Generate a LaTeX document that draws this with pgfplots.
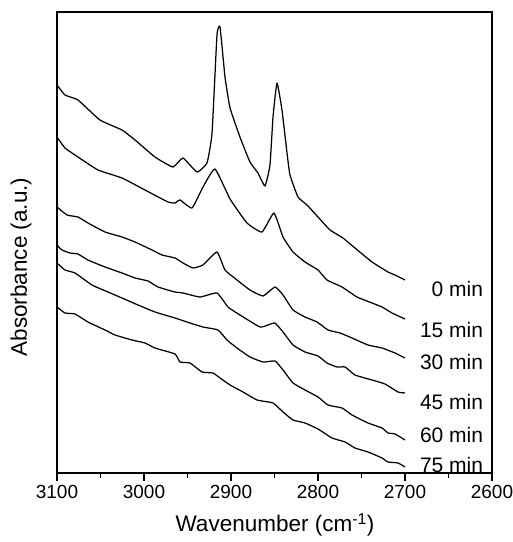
\documentclass[border=0pt]{standalone}
\usepackage{fontspec}
\setmainfont{Liberation Sans}
\usepackage{pgfplots}
\pgfplotsset{compat=1.18}

\newcommand{\ticksize}{\fontsize{19bp}{22bp}\selectfont}
\newcommand{\labsize}{\fontsize{21bp}{24bp}\selectfont}
\newcommand{\axsize}{\fontsize{22.5bp}{26bp}\selectfont}

\pgfplotsset{spec/.style={black, no marks, line width=1.25bp, line join=round, smooth, tension=0.25}}

\begin{document}
\begin{tikzpicture}
\useasboundingbox (-57bp,-69bp) rectangle (456bp,473bp);
\begin{axis}[
  scale only axis, width=435bp, height=461bp,
  at={(0,0)}, anchor=south west,
  x dir=reverse, xmin=2600, xmax=3100, ymin=0, ymax=461,
  xtick={2600,2700,...,3100}, minor xtick={2650,2750,...,3050},
  ytick=\empty,
  tick align=outside, xtick pos=bottom,
  major tick length=8bp, minor tick length=5bp,
  every tick/.style={black, line width=1.2bp},
  axis line style={line width=1.6bp},
  /pgf/number format/1000 sep={},
  /pgf/number format/assume math mode=true,
  xticklabel style={font=\ticksize, anchor=north, yshift=-1bp},
  xlabel={Wavenumber (cm\textsuperscript{-1})},
  ylabel={Absorbance (a.u.)},
  every axis x label/.style={at={(axis description cs:0.501,0)}, anchor=center, yshift=-52bp, font=\axsize},
  every axis y label/.style={at={(axis description cs:0,0.447)}, anchor=center, rotate=90, yshift=36bp, font=\axsize},
  clip=false,
]
% 0 min
\addplot[spec] coordinates {
(3100,388) (3090.8,378) (3075.9,373) (3050.6,353) (3025.3,343) (3010.3,333)
(2987.4,316) (2966.7,306) (2955.2,315) (2939.1,301) (2927.6,310) (2921.8,340)
(2916.1,438) (2912.6,446) (2906.9,396) (2901.1,365) (2889.7,336) (2878.2,311)
(2869.0,300) (2860.9,287) (2855.2,308) (2851.7,356) (2847.1,390) (2841.4,363)
(2835.6,320) (2832.2,298) (2823.0,276) (2812.6,268) (2800.0,256) (2786.2,243)
(2771.3,235) (2757.5,225) (2737.9,211) (2719.5,201) (2711.5,198) (2700.0,193)};
% 15 min
\addplot[spec] coordinates {
(3100,336) (3090.8,325) (3075.9,316) (3052.9,303) (3025.3,295) (2998.9,283)
(2972.4,271) (2964.4,270) (2958.6,273) (2944.8,265) (2932.2,286) (2918.4,304)
(2901.1,274) (2881.6,250) (2864.4,241) (2850.6,260) (2840.2,236) (2828.7,221)
(2814.9,211) (2800.0,203) (2789.7,193) (2772.4,186) (2755.2,176) (2737.9,170)
(2726.4,166) (2714.9,160) (2700.0,154)};
% 30 min
\addplot[spec] coordinates {
(3100,266) (3088.5,258) (3075.9,256) (3064.4,250) (3044.8,241) (3025.3,236)
(3010.3,231) (2990.8,223) (2979.3,218) (2964.4,215) (2955.2,210) (2943.7,205)
(2932.2,208) (2916.1,221) (2906.9,203) (2893.1,193) (2878.2,183) (2863.2,177)
(2849.4,186) (2840.2,178) (2828.7,163) (2814.9,156) (2801.1,151) (2788.5,143)
(2774.7,140) (2760.9,135) (2742.5,128) (2726.4,125) (2711.5,120) (2700.0,115)};
% 45 min
\addplot[spec] coordinates {
(3100,228) (3094.3,223) (3085.1,220) (3075.9,219) (3064.4,213) (3044.8,206)
(3025.3,200) (3010.3,195) (2995.4,192) (2983.9,186) (2964.4,181) (2955.2,180)
(2935.6,176) (2916.1,180) (2903.4,166) (2889.7,158) (2866.7,146) (2857.5,148)
(2849.4,150) (2840.2,141) (2828.7,128) (2814.9,121) (2800.0,117) (2789.7,110)
(2778.2,106) (2768.9,106) (2757.5,98) (2737.9,93) (2723.0,89) (2708.0,81)
(2700.0,80)};
% 60 min
\addplot[spec] coordinates {
(3100,210) (3090.8,203) (3079.3,200) (3059.8,188) (3041.4,181) (3025.3,175)
(3006.9,168) (2987.4,161) (2964.4,155) (2950.6,151) (2932.2,146) (2914.9,143)
(2904.6,133) (2893.1,125) (2878.2,116) (2863.2,111) (2849.4,112) (2840.2,103)
(2828.7,90) (2814.9,83) (2800.0,76) (2788.5,68) (2772.4,65) (2760.9,58)
(2742.5,50) (2726.4,45) (2719.5,40) (2711.5,39) (2700.0,33)};
% 75 min
\addplot[spec] coordinates {
(3100,166) (3090.8,160) (3079.3,159) (3064.4,151) (3044.8,143) (3033.3,138)
(3013.8,133) (2998.9,130) (2987.4,125) (2964.4,119) (2958.6,111) (2947.1,110)
(2933.3,101) (2920.7,100) (2912.6,95) (2901.1,88) (2886.2,81) (2870.1,73)
(2851.7,70) (2840.2,61) (2828.7,53) (2814.9,50) (2800.0,44) (2783.9,35)
(2768.9,31) (2757.5,25) (2742.5,21) (2726.4,15) (2719.5,11) (2708.0,10)
(2700.0,6)};
\node[font=\labsize, anchor=east, inner sep=0pt] at (axis cs:2610,184) {0 min};
\node[font=\labsize, anchor=east, inner sep=0pt] at (axis cs:2610,143) {15 min};
\node[font=\labsize, anchor=east, inner sep=0pt] at (axis cs:2610,111) {30 min};
\node[font=\labsize, anchor=east, inner sep=0pt] at (axis cs:2610,71) {45 min};
\node[font=\labsize, anchor=east, inner sep=0pt] at (axis cs:2610,38) {60 min};
\node[font=\labsize, anchor=east, inner sep=0pt] at (axis cs:2610,8) {75 min};
\end{axis}
\end{tikzpicture}
\end{document}
